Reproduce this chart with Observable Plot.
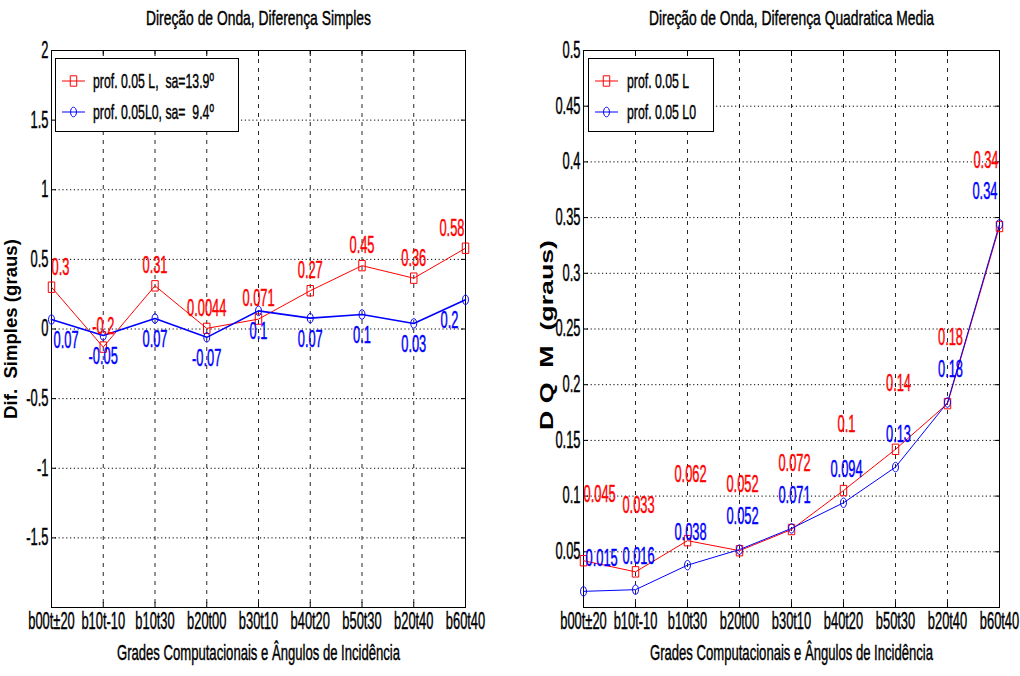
<!DOCTYPE html>
<html><head><meta charset="utf-8">
<script src="https://cdn.jsdelivr.net/npm/d3@7"></script>
<script src="https://cdn.jsdelivr.net/npm/@observablehq/plot@0.6"></script>
<style>
html,body{margin:0;padding:0;background:#fff;}
#wrap{position:relative;width:1020px;height:676px;display:flex;}
svg{overflow:visible;}
svg text{white-space:pre;}
</style></head><body><div id="wrap"></div>
<script>
const categories = ["b00t±20","b10t-10","b10t30","b20t00","b30t10","b40t20","b50t30","b20t40","b60t40"];
const leftTitle = "Direção de Onda, Diferença Simples";
const rightTitle = "Direção de Onda, Diferença Quadratica Media";
const xLabel = "Grades Computacionais e Ângulos de Incidência";
const leftYLabel = "Dif.  Simples (graus)";
const rightYLabel = "D Q  M  (graus)";

// Left panel: simple difference
const simplesL = [0.30, -0.13, 0.31, 0.0044, 0.071, 0.275, 0.455, 0.365, 0.58];
const simplesLLabels = ["0.3","-0.2","0.31","0.0044","0.071","0.27","0.45","0.36","0.58"];
const simplesL0 = [0.068, -0.047, 0.075, -0.06, 0.13, 0.078, 0.104, 0.04, 0.21];
const simplesL0Labels = ["0.07","-0.05","0.07","-0.07","0.1","0.07","0.1","0.03","0.2"];

// Right panel: mean quadratic difference
const dqmL = [0.042, 0.032, 0.06, 0.051, 0.07, 0.105, 0.142, 0.183, 0.342];
const dqmLLabels = ["0.045","0.033","0.062","0.052","0.072","0.1","0.14","0.18","0.34"];
const dqmL0 = [0.0145, 0.016, 0.038, 0.052, 0.071, 0.094, 0.126, 0.184, 0.344];
const dqmL0Labels = ["0.015","0.016","0.038","0.052","0.071","0.094","0.13","0.18","0.34"];

const leftYTicks = [-2, -1.5, -1, -0.5, 0, 0.5, 1, 1.5, 2];
const rightYTicks = [0, 0.05, 0.1, 0.15, 0.2, 0.25, 0.3, 0.35, 0.4, 0.45, 0.5];
const legendLeft = ["prof. 0.05 L,  sa=13.9º", "prof. 0.05L0, sa=  9.4º"];
const legendRight = ["prof. 0.05 L", "prof. 0.05 L0"];

const RED = "#ff0000", BLUE = "#0000ff";
const FONT = "'Liberation Sans', Arial, sans-serif";
const xs = categories.map((_, i) => i + 1);

const tallSquare = {draw(ctx, size) {
  const r = Math.sqrt(size / Math.PI), h = r, w = r * 0.62;
  ctx.moveTo(-w, -h); ctx.lineTo(w, -h); ctx.lineTo(w, h); ctx.lineTo(-w, h); ctx.closePath();
}};
const tallCircle = {draw(ctx, size) {
  const r = Math.sqrt(size / Math.PI), ry = r, rx = r * 0.62, k = 0.5523;
  ctx.moveTo(rx, 0);
  ctx.bezierCurveTo(rx, ry * k, rx * k, ry, 0, ry);
  ctx.bezierCurveTo(-rx * k, ry, -rx, ry * k, -rx, 0);
  ctx.bezierCurveTo(-rx, -ry * k, -rx * k, -ry, 0, -ry);
  ctx.bezierCurveTo(rx * k, -ry, rx, -ry * k, rx, 0);
  ctx.closePath();
}};

function rowsOf(values, labels) {
  return values.map((v, i) => ({i: i + 1, v, t: labels[i]}));
}

function labelMarks(rows, fill, dy, dxMid, dxFirst, dxLast) {
  const n = rows.length;
  const common = {x: "i", y: "v", text: "t", fill, dy, fontSize: 23};
  return [
    Plot.text(rows.filter(d => d.i === 1), {...common, dx: dxFirst, textAnchor: "start"}),
    Plot.text(rows.filter(d => d.i > 1 && d.i < n), {...common, dx: dxMid, textAnchor: "middle"}),
    Plot.text(rows.filter(d => d.i === n), {...common, dx: dxLast, textAnchor: "end"})
  ];
}

function panel(o) {
  const redRows = rowsOf(o.red, o.redLabels);
  const blueRows = rowsOf(o.blue, o.blueLabels);
  return Plot.plot({
    width: 510, height: 676,
    marginTop: 50, marginBottom: 69, marginLeft: o.ml, marginRight: o.mr,
    style: {fontFamily: FONT, fontSize: "22px", background: "#fff", overflow: "visible"},
    x: {domain: [1, 9]},
    y: {domain: o.domain},
    marks: [
      Plot.gridX(xs, {stroke: "#000", strokeOpacity: 0.85, strokeDasharray: "4,5"}),
      Plot.gridY(o.yTicks, {stroke: "#000", strokeOpacity: 1, strokeDasharray: "1.2,2.6"}),
      Plot.frame({stroke: "#000"}),
      Plot.axisY({anchor: "left", ticks: o.yTicks, tickSize: -5, fill: "none", label: null}),
      Plot.axisY({anchor: "right", ticks: o.yTicks, tickSize: -5, fill: "none", label: null}),
      Plot.axisX({anchor: "top", ticks: xs, tickSize: -5, fill: "none", label: null}),
      Plot.axisX({anchor: "bottom", ticks: xs, tickSize: -5, fill: "none", label: null}),
      Plot.axisX({anchor: "bottom", ticks: xs, tickFormat: i => categories[i - 1], tickSize: 0, tickPadding: 5, fontSize: 23, label: null}),
      Plot.axisY({anchor: "left", ticks: o.yTicks, tickFormat: o.yFmt, tickSize: 0, tickPadding: 3, fontSize: 23, label: null}),
      Plot.line(redRows, {x: "i", y: "v", stroke: RED, strokeWidth: 1}),
      Plot.line(blueRows, {x: "i", y: "v", stroke: BLUE, strokeWidth: o.blueWidth}),
      Plot.dot(redRows, {x: "i", y: "v", symbol: tallSquare, r: 5.2, stroke: RED, fill: "none", strokeWidth: 1}),
      Plot.dot(blueRows, {x: "i", y: "v", symbol: tallCircle, r: 4.8, stroke: BLUE, fill: "none", strokeWidth: 1}),
      ...labelMarks(redRows, RED, o.redDy, o.dxMid, 0, -1),
      ...labelMarks(blueRows, BLUE, o.blueDy, o.dxMid, 2, o.blueLastDx),
      Plot.text([o.title], {frameAnchor: "top", textAnchor: "middle", lineAnchor: "middle", dy: -32, fontSize: 21}),
      Plot.text([xLabel], {frameAnchor: "bottom", textAnchor: "middle", lineAnchor: "middle", dy: 45, fontSize: 22}),
      Plot.text([o.ylabel], {frameAnchor: "left", textAnchor: "middle", lineAnchor: "middle", rotate: -90, dx: o.ylDx, dy: o.ylDy, fontSize: 18.6, fontWeight: "bold"})
    ]
  });
}

function addLegend(svg, o) {
  const g = d3.select(svg).append("g").attr("class", "leg").attr("text-anchor", "start");
  g.append("rect").attr("x", o.x + 0.5).attr("y", 58.5).attr("width", o.w).attr("height", 73)
    .attr("fill", "#fff").attr("stroke", "#000");
  const rows = [{label: o.labels[0], color: RED, sym: tallSquare, r: 5.2, y: 81},
                {label: o.labels[1], color: BLUE, sym: tallCircle, r: 4.8, y: 112}];
  rows.forEach(r => {
    g.append("line").attr("x1", o.lx1).attr("x2", o.lx2).attr("y1", r.y).attr("y2", r.y).attr("stroke", r.color);
    g.append("path").attr("d", d3.symbol(r.sym, r.r * r.r * Math.PI)())
      .attr("transform", `translate(${(o.lx1 + o.lx2) / 2},${r.y})`).attr("fill", "none").attr("stroke", r.color);
    g.append("text").attr("x", o.tx).attr("y", r.y).attr("dy", "0.34em").attr("font-size", 21)
      .attr("text-anchor", "start").attr("fill", "#000").text(r.label);
  });
}

const measureCtx = document.createElement("canvas").getContext("2d");
function regularWidth(s, size) {
  measureCtx.font = `${size}px ${FONT}`;
  return measureCtx.measureText(s).width;
}
function fit(t, len) {
  t.setAttribute("textLength", len.toFixed(2));
  t.setAttribute("lengthAdjust", "spacingAndGlyphs");
}

function squeeze(svg, ylabel, ylabelLen) {
  svg.querySelectorAll("text").forEach(t => {
    const s = t.textContent;
    if (!s) return;
    if (s === ylabel) { if (ylabelLen) fit(t, ylabelLen); return; }
    const cs = getComputedStyle(t);
    const size = parseFloat(cs.fontSize);
    const L = regularWidth(s, size);
    let k = 0.56;
    if (t.closest(".leg")) k = 0.585;
    else if (s === leftTitle || s === rightTitle) k = 0.66;
    else if (s === xLabel) k = 0.595;
    // slight thickening to mimic the heavier rasterised text of the original
    t.style.stroke = cs.fill;
    t.style.strokeWidth = "0.45px";
    fit(t, L * k);
  });
}

const left = panel({
  ml: 51, mr: 45, domain: [-2, 2], yTicks: leftYTicks,
  yFmt: d => d === -2 ? "" : String(d),
  red: simplesL, redLabels: simplesLLabels, blue: simplesL0, blueLabels: simplesL0Labels,
  redDy: -20, blueDy: 21, dxMid: 0, blueLastDx: -7, blueWidth: 1.6,
  title: leftTitle, ylabel: leftYLabel, ylDx: -40, ylDy: 0
});
const right = panel({
  ml: 73, mr: 21, domain: [0, 0.5], yTicks: rightYTicks,
  yFmt: d => d === 0 ? "" : String(d),
  red: dqmL, redLabels: dqmLLabels, blue: dqmL0, blueLabels: dqmL0Labels,
  redDy: -66, blueDy: -33, dxMid: 3, blueLastDx: -2, blueWidth: 1,
  title: rightTitle, ylabel: rightYLabel, ylDx: -36.5, ylDy: 6
});
const wrap = document.getElementById("wrap");
wrap.appendChild(left);
wrap.appendChild(right);
addLegend(left, {x: 55, w: 183, lx1: 62, lx2: 85, tx: 93, labels: legendLeft});
addLegend(right, {x: 78, w: 125, lx1: 85, lx2: 108, tx: 117, labels: legendRight});
squeeze(left, leftYLabel, 0);
squeeze(right, rightYLabel, 190);
</script>
</body></html>
